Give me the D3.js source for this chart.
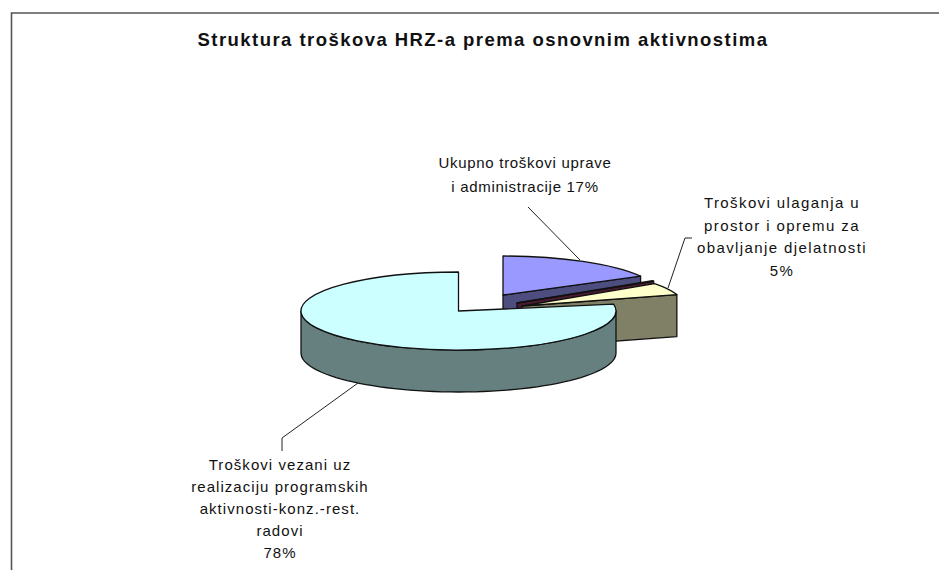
<!DOCTYPE html>
<html><head><meta charset="utf-8">
<script src="https://cdn.jsdelivr.net/npm/d3@7"></script>
<style>html,body{margin:0;padding:0;background:#fff}svg{display:block}text{font-family:"Liberation Sans",Arial,sans-serif;fill:#111}</style>
</head><body><script>
const chartTitle = "Struktura troškova HRZ-a prema osnovnim aktivnostima";
const categories = ["Ukupno troškovi uprave i administracije","Ostalo","Troškovi ulaganja u prostor i opremu za obavljanje djelatnosti","Troškovi vezani uz realizaciju programskih aktivnosti-konz.-rest. radovi"];
const values = [17, 0.2, 5, 77.8];
const topColors = ["#9999ff","#993366","#ffffcc","#ccffff"];
const wallColors = ["#4d4d80","#4d1a33","#808066","#668080"];
const labelLines = [
  ["Ukupno troškovi uprave","i administracije 17%"],
  [],
  ["Troškovi ulaganja u","prostor i opremu za","obavljanje djelatnosti","5%"],
  ["Troškovi vezani uz","realizaciju programskih","aktivnosti-konz.-rest.","radovi","78%"]
];

// layout only
const W=939,H=570,depth=42;
const layout=[
 {cx:503,cy:295,rx:157,ry:39,rot:0},
 {cx:517,cy:303,rx:165,ry:39,rot:-6},
 {cx:522,cy:306,rx:162,ry:39,rot:-7},
 {cx:458.5,cy:311,rx:157.5,ry:39,rot:0}
];
const labelPos=[{x:525,y:168,lh:24,ls:0.7},null,{x:782,y:208,lh:22.5,ls:1.4},{x:280,y:470,lh:22,ls:1.05}];
const leaders=[
 [[528,207],[580,260]],
 null,
 [[668,288],[685,238],[692,238]],
 [[358,383],[282,438],[282,451]]
];

const svg=d3.select("body").append("svg").attr("width",W).attr("height",H);
svg.append("path").attr("d",`M11.5,${H}V13H${W}`).attr("fill","none").attr("stroke","#555").attr("stroke-width",1.6);
svg.append("text").attr("x",483).attr("y",46).attr("text-anchor","middle")
   .attr("font-size",18.5).attr("font-weight","bold").attr("letter-spacing",1.45).text(chartTitle);

const arcs=d3.pie().value(d=>d).sort(null)(values);
const rad=Math.PI/180, line=d3.line();
const pt=(l,a,dy=0)=>[l.cx+l.rx*Math.sin(a),l.cy-l.ry*Math.cos(a)+dy];
const stroke={stroke:"#111","stroke-width":1.3,"stroke-linejoin":"round"};
const applyStroke=s=>{for(const k in stroke)s.attr(k,stroke[k]);return s;};

arcs.forEach((a,i)=>{
  const l=layout[i], g=svg.append("g");
  const a0=a.startAngle+l.rot*rad, a1=a.endAngle+l.rot*rad;
  const from=Math.max(a0,Math.PI/2), to=a1;
  if(to>from){
    const n=d3.range(0,61).map(k=>from+(Math.min(to,1.5*Math.PI)-from)*k/60);
    const pts=[...n.map(t=>pt(l,t)),...n.slice().reverse().map(t=>pt(l,t,depth))];
    applyStroke(g.append("path").attr("d",line(pts)+"Z").attr("fill",wallColors[i]));
  } else {
    const rim=pt(l,a1), apex=[l.cx,l.cy];
    const pts=[apex,rim,[rim[0],rim[1]+depth],[apex[0],apex[1]+depth]];
    applyStroke(g.append("path").attr("d",line(pts)+"Z").attr("fill",wallColors[i]));
  }
  const arc=d3.arc().innerRadius(0).outerRadius(l.rx).startAngle(a0).endAngle(a1);
  applyStroke(g.append("path").attr("d",arc())
    .attr("transform",`translate(${l.cx},${l.cy}) scale(1,${l.ry/l.rx})`)
    .attr("fill",topColors[i]).attr("vector-effect","non-scaling-stroke"));
});

leaders.forEach(p=>{ if(p) svg.append("path").attr("d",line(p)).attr("fill","none").attr("stroke","#222").attr("stroke-width",1); });

labelLines.forEach((lines,i)=>{
  const p=labelPos[i]; if(!p) return;
  const t=svg.append("text").attr("text-anchor","middle").attr("font-size",15).attr("letter-spacing",p.ls);
  lines.forEach((s,j)=>t.append("tspan").attr("x",p.x).attr("y",p.y+j*p.lh).text(s));
});
</script></body></html>
